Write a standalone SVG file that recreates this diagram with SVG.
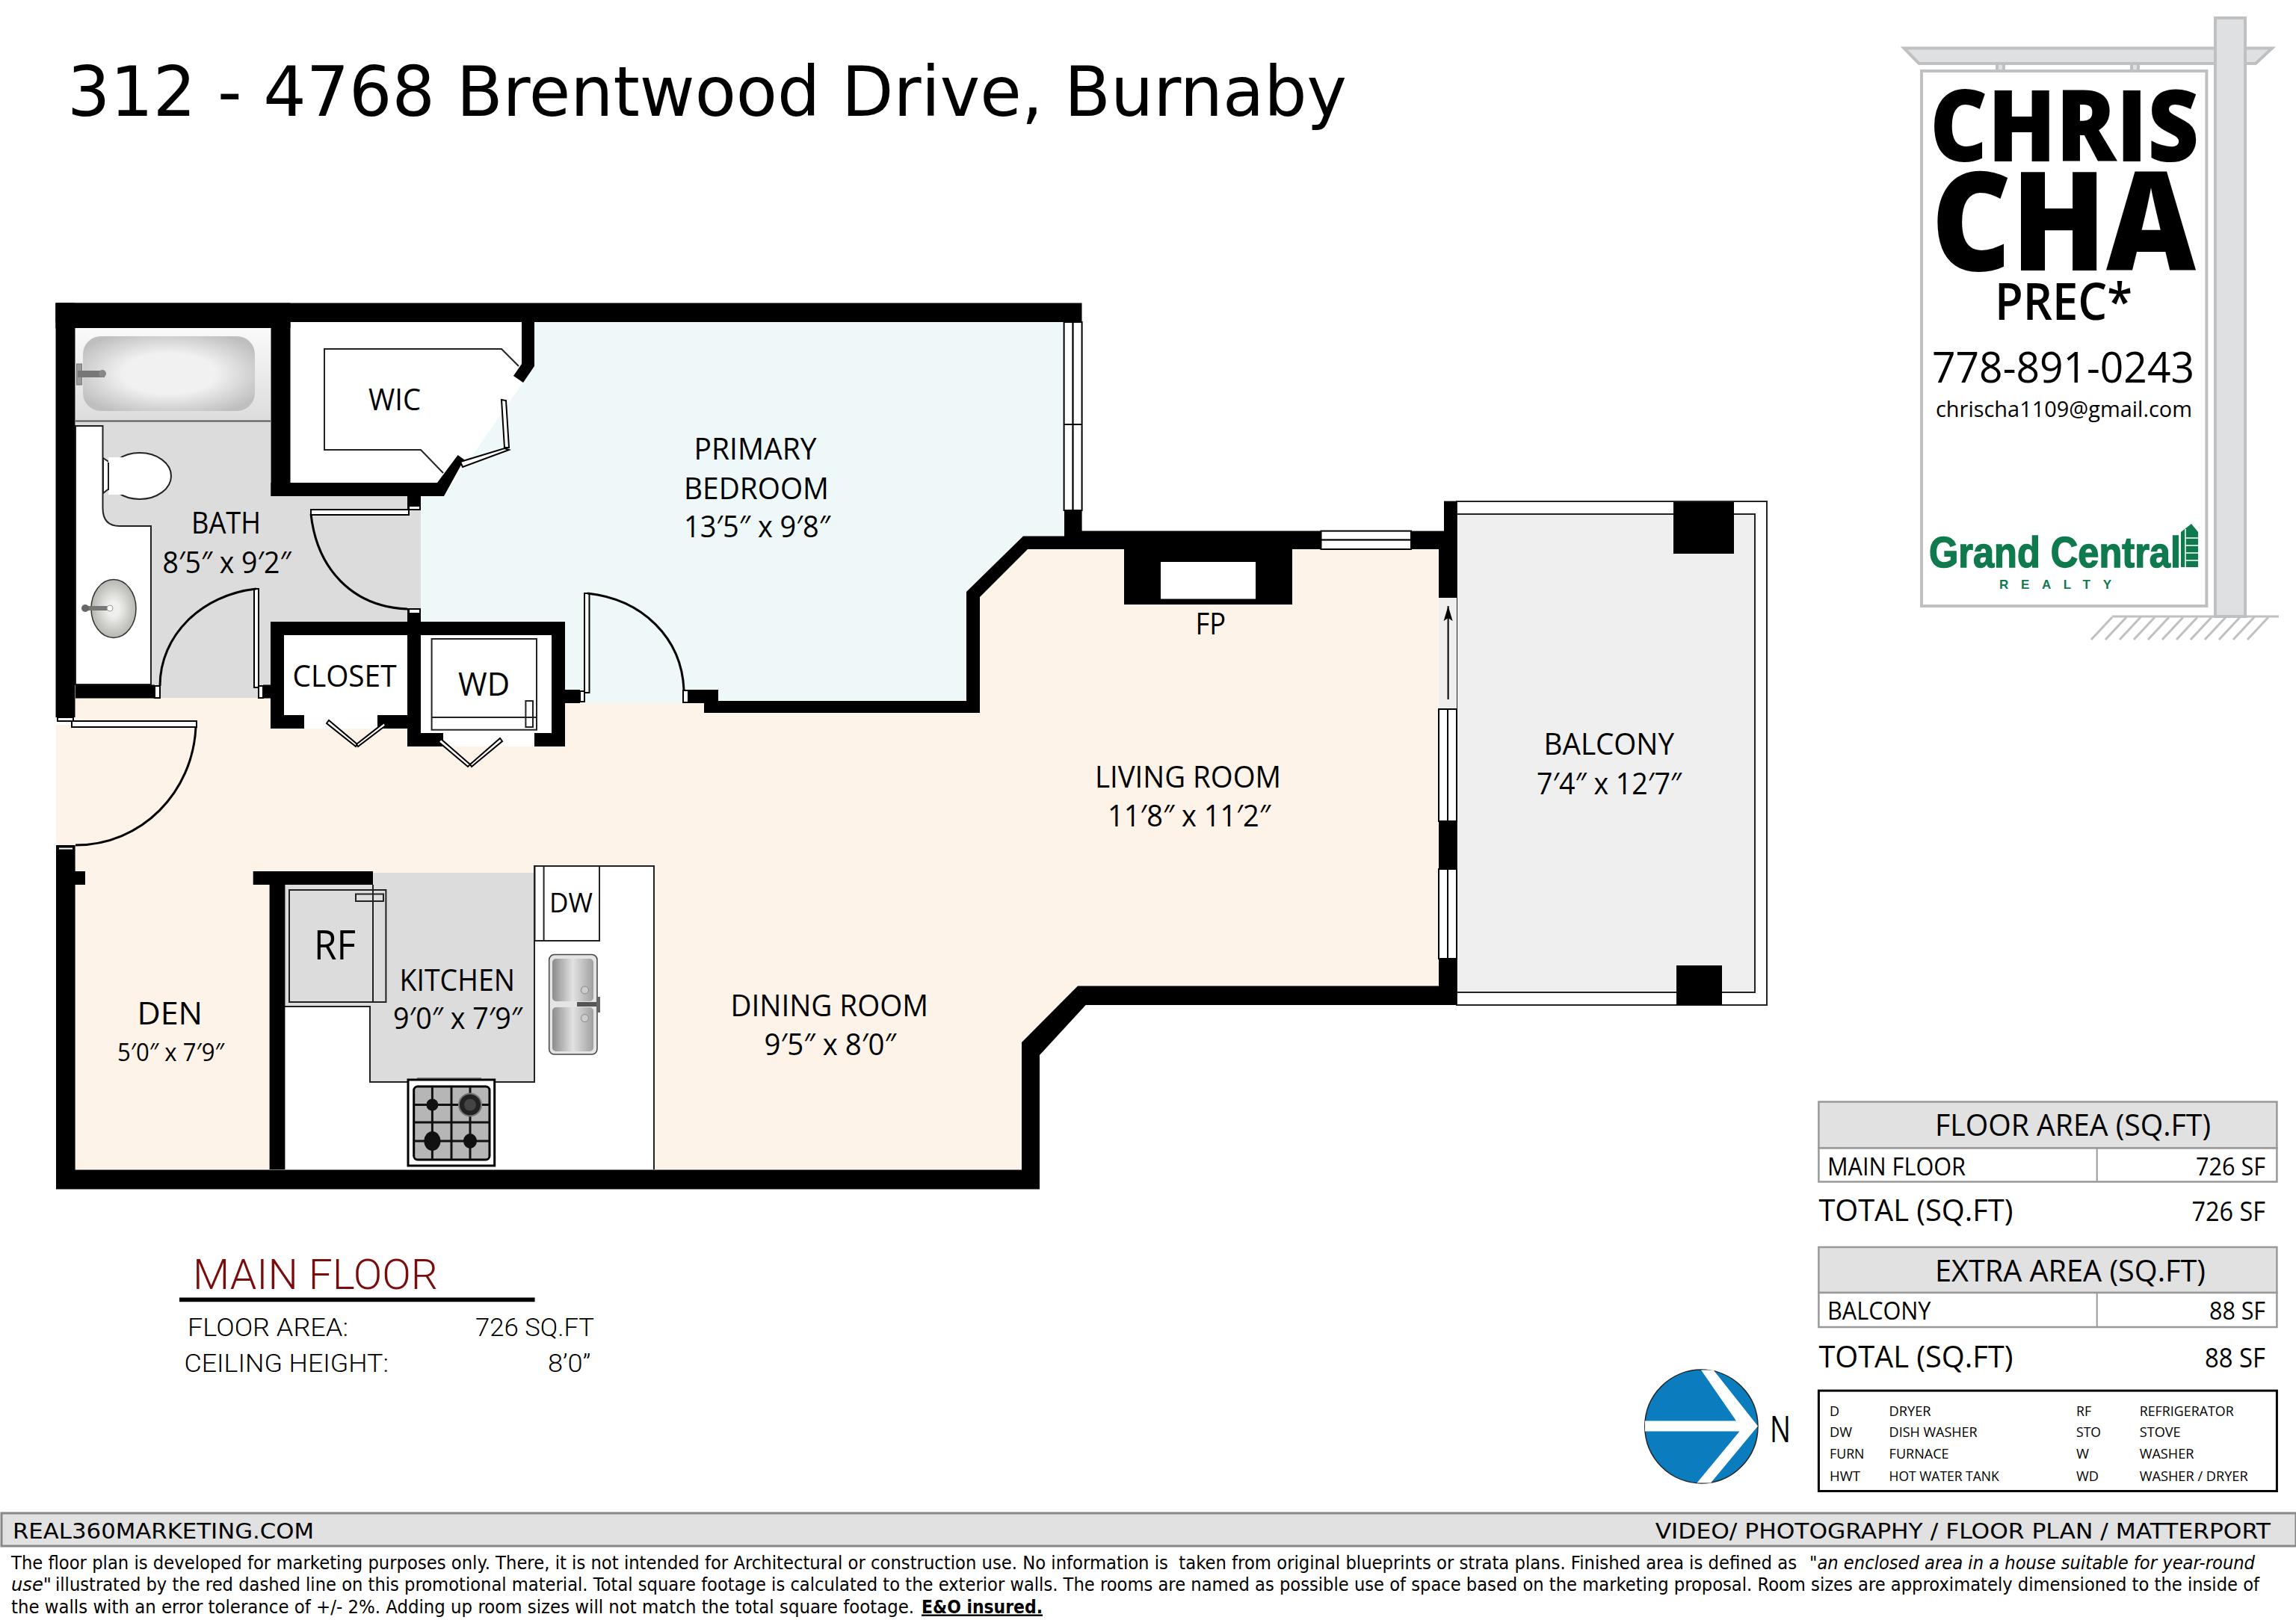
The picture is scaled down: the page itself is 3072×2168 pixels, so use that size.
<svg xmlns="http://www.w3.org/2000/svg" width="3072" height="2168" viewBox="0 0 3072 2168">
<style>
text{font-family:"Open Sans","Liberation Sans",sans-serif;fill:#000}
.w{fill:#000}
.lbl{font-size:40px}
.sm{font-size:19px}
.tbl{font-size:32px}
.tot{font-size:40px}
.hdr{font-size:40px}
.ft{font-family:"DejaVu Sans",sans-serif;font-size:24px;white-space:pre}
.bar{font-family:"DejaVu Sans",sans-serif;font-size:29px}
.rb{font-family:Roboto,sans-serif;font-size:33px;font-weight:300}
.win{fill:#fff;stroke:#000;stroke-width:2}
.swing{fill:none;stroke:#000;stroke-width:3}
.thin{fill:none;stroke:#222;stroke-width:2}
.sign{fill:#dfe0e2;stroke:#bfc0c2;stroke-width:4}
.hatch{stroke:#bfc0c2;stroke-width:3}
.green{font-family:"Liberation Sans",sans-serif;font-weight:700;fill:#0f7a4d}
</style>
<defs>
<radialGradient id="tub" cx="50%" cy="50%" r="60%"><stop offset="0.45" stop-color="#f1f1f2"/><stop offset="1" stop-color="#bfbfbf"/></radialGradient>
<linearGradient id="tubbg" x1="0" y1="0" x2="0" y2="1"><stop offset="0" stop-color="#fafafa"/><stop offset="1" stop-color="#dcdcdc"/></linearGradient>
<radialGradient id="bowl" cx="50%" cy="50%" r="60%"><stop offset="0.2" stop-color="#f0f0ee"/><stop offset="1" stop-color="#a8a8a0"/></radialGradient>
<linearGradient id="steel" x1="0" y1="0" x2="1" y2="0"><stop offset="0" stop-color="#8c8c8c"/><stop offset="0.5" stop-color="#e2e2e2"/><stop offset="1" stop-color="#a0a0a0"/></linearGradient>
<marker id="ah" markerWidth="22" markerHeight="14" refX="20" refY="7" orient="auto" markerUnits="userSpaceOnUse" viewBox="0 0 22 14"><path d="M20 7L0 1L4 7L0 13Z" fill="#000"/></marker>
</defs>
<rect width="3072" height="2168" fill="#fff"/>
<text id="title" x="90" y="155" font-size="92" style="font-family:'DejaVu Sans',sans-serif" textLength="1712" lengthAdjust="spacingAndGlyphs">312 - 4768 Brentwood Drive, Burnaby</text>

<g id="floors">
<polygon id="floor-living" fill="#fdf3e9" points="100,934 362,934 362,975 545,975 545,999 756,999 756,941 1311,941 1311,799 1375,735 1925,735 1925,1320 1442,1320 1367,1400 1367,1565 100,1565 100,1131 75,1131 75,970 100,970"/>
<polygon id="floor-bedroom" fill="#eff8f9" points="715,431 1424,431 1424,717 1369,717 1293,792 1293,941 756,941 756,832 563,832 563,664 594,664 715,490"/>
<polygon id="floor-bath" fill="#dcdcdc" points="101,563 362,563 362,664 563,664 563,832 362,832 362,934 101,934"/>
<polygon id="floor-wic" fill="#fff" points="388,431 700,431 700,505 621,615 594,646 388,646"/>
<rect id="floor-closet" x="380" y="850" width="165" height="122" fill="#fff"/>
<rect id="floor-wd" x="563" y="850" width="175" height="145" fill="#fff"/>
<polygon id="floor-counter" fill="#fff" points="381,1347 495,1347 495,1448 715,1448 715,1159 875,1159 875,1565 381,1565"/>
<polygon id="floor-kitchen" fill="#dcdcdc" points="381,1184 499,1184 499,1168 715,1168 715,1448 495,1448 495,1347 381,1347"/>
<polyline class="thin" points="381,1347 495,1347 495,1448 715,1448 715,1159 875,1159 875,1565"/>
</g>

<g id="balcony">
<rect x="1949" y="671" width="415" height="674" fill="#fff" stroke="#222" stroke-width="2"/>
<rect x="1949" y="688" width="399" height="640" fill="#efefef" stroke="#222" stroke-width="2"/>
<rect x="1925" y="800" width="24" height="149" fill="#efefef"/>
<rect class="w" x="2239" y="672" width="81" height="69"/>
<rect class="w" x="2243" y="1292" width="61" height="53"/>
<line x1="1937.6" y1="936" x2="1937.6" y2="811" stroke="#000" stroke-width="2" marker-end="url(#ah)"/>
</g>

<g id="bath-fixtures">
<rect x="101" y="439" width="261" height="124" fill="url(#tubbg)"/>
<line x1="101" y1="563.5" x2="362" y2="563.5" stroke="#555" stroke-width="2"/>
<rect x="111" y="450" width="230" height="100" rx="24" fill="url(#tub)"/>
<rect x="102.5" y="487" width="7" height="28" fill="#999" stroke="#777"/>
<rect x="104" y="496" width="36" height="9" fill="#777"/>
<circle cx="137" cy="500" r="5" fill="#888"/>
<path class="thin" style="fill:#fff" d="M101,570H137.5V680Q137.5,704 160,704H202V916H101Z"/>
<path d="M138,613L147,619V653L138,660Z" fill="#fff" stroke="#222" stroke-width="2"/>
<ellipse cx="187" cy="637" rx="42" ry="31" fill="#fff" stroke="#222" stroke-width="2"/>
<rect x="145" y="612" width="26" height="50" fill="#fff"/>
<line x1="145" y1="619" x2="145" y2="656" stroke="#222" stroke-width="2"/>
<ellipse cx="152" cy="814.5" rx="30" ry="39" fill="url(#bowl)" stroke="#333" stroke-width="1.5"/>
<rect x="113" y="811" width="31" height="6" fill="#777"/>
<circle cx="114" cy="814" r="5" fill="#666"/>
<circle cx="147" cy="814" r="4" fill="#fff" stroke="#999"/>
</g>

<g id="closet-fixtures">
<rect x="577.6" y="855" width="140.4" height="121.7" class="thin"/>
<line x1="577.6" y1="960" x2="718" y2="960" stroke="#222" stroke-width="2"/>
<rect x="703.4" y="938" width="9.6" height="35" class="thin"/>
</g>

<g id="wic-shelves">
<polyline class="thin" points="694,490 671,467 434,467 434,602 563,602 593,633"/>
</g>

<g id="kitchen-fixtures">
<rect x="387" y="1191" width="129.4" height="150" class="thin"/>
<line x1="499" y1="1184" x2="499" y2="1341" stroke="#222" stroke-width="2"/>
<rect x="476" y="1196.5" width="37" height="9.5" class="thin"/>
<rect x="715.5" y="1159" width="86.5" height="100" class="thin"/>
<line x1="727.6" y1="1159" x2="727.6" y2="1259" stroke="#222" stroke-width="2"/>
<rect x="734.7" y="1277.6" width="64.3" height="133.4" rx="7" fill="#e4e4e4" stroke="#444" stroke-width="1.5"/>
<rect x="739" y="1283" width="55" height="57" rx="5" fill="url(#steel)"/>
<rect x="739" y="1348" width="55" height="59" rx="5" fill="url(#steel)"/>
<circle cx="782.4" cy="1325" r="5" fill="#ccc" stroke="#888"/>
<circle cx="782.4" cy="1362.6" r="5" fill="#ccc" stroke="#888"/>
<rect x="772" y="1341" width="28" height="6" fill="#555"/>
<rect x="798" y="1334" width="5" height="21" fill="#666"/>
<rect x="558" y="1442" width="86" height="4" fill="#888"/>
<rect x="546" y="1445" width="115.7" height="115" fill="#fff" stroke="#000" stroke-width="3"/>
<rect x="553.7" y="1454" width="101.3" height="98" rx="5" fill="#b6b6b6" stroke="#000" stroke-width="3"/>
<path d="M578.4,1454V1552M604,1454V1552M629,1454V1552M554,1478.5H655M554,1502H655M554,1527H655" fill="none" stroke="#111" stroke-width="3"/>
<ellipse cx="578.4" cy="1478.5" rx="8" ry="8" fill="#111"/>
<circle cx="629" cy="1478.5" r="15" fill="#222" stroke="#777" stroke-width="2"/>
<circle cx="629" cy="1478.5" r="8" fill="#444"/>
<ellipse cx="578.4" cy="1527" rx="11" ry="13" fill="#111"/>
<ellipse cx="629" cy="1527" rx="9" ry="10" fill="#111"/>
</g>

<g id="walls" class="w">
<rect x="74.5" y="405.5" width="1373" height="25.5"/>
<rect x="74.5" y="405.5" width="314" height="33.5"/>
<rect x="74.5" y="405.5" width="26" height="554.5"/>
<rect x="362.5" y="431" width="26" height="233"/>
<polygon points="362.5,646 585,646 612.6,609 621,615 594,664 362.5,664"/>
<rect x="698" y="431" width="17" height="59"/>
<polygon points="698,487 715,490 700,512 687,503"/>
<rect x="545" y="664" width="18" height="18"/>
<rect x="545" y="814" width="18" height="36"/>
<rect x="362" y="832" width="394" height="18"/>
<rect x="362" y="832" width="18" height="143"/>
<rect x="362" y="957" width="45" height="18"/>
<rect x="505" y="957" width="40" height="18"/>
<rect x="545" y="832" width="18" height="167"/>
<rect x="545" y="981" width="48" height="18"/>
<rect x="715" y="981" width="41" height="18"/>
<rect x="738" y="832" width="18" height="167"/>
<rect x="101" y="916.5" width="106" height="18"/>
<rect x="352" y="916.5" width="10" height="18"/>
<rect x="756" y="923" width="20" height="18"/>
<rect x="921" y="923" width="40" height="18"/>
<rect x="942" y="938" width="369" height="16"/>
<polygon points="1293,938 1293,792 1369,717.5 1424,717.5 1424,683 1447.6,683 1447.6,710.6 1767.5,710.6 1767.5,735 1375,735 1311,799 1311,954 1293,954"/>
<rect x="1504" y="735" width="225" height="74"/>
<rect x="1553" y="752" width="127" height="49.5" fill="#fff"/>
<rect x="1888" y="710.6" width="61" height="24.4"/>
<rect x="1925" y="735" width="24" height="65"/>
<rect x="1932" y="670.6" width="17" height="65"/>
<rect x="1925" y="1099" width="24" height="64"/>
<rect x="1925" y="1283" width="24" height="62"/>
<polygon points="1442,1319.4 1925,1319.4 1949,1319.4 1949,1345 1452.7,1345 1391,1412 1391,1591.5 75,1591.5 75,1131 100.6,1131 100.6,1565.5 1367,1565.5 1367,1395"/>
<rect x="100" y="1166" width="14" height="18"/>
<rect x="338.7" y="1166" width="160.3" height="18"/>
<rect x="360.6" y="1166" width="20.8" height="399"/>
</g>

<g id="connectors">
<rect class="win" x="547" y="677" width="15" height="5"/>
<rect class="win" x="416" y="682" width="131" height="7"/>
<path class="swing" d="M416,688C424,760 470,812 545,815"/>
<rect class="win" x="547" y="815" width="15" height="6"/>
<rect class="win" x="207" y="918" width="7" height="16"/>
<rect class="win" x="340" y="788" width="6" height="132"/>
<rect class="win" x="346" y="918" width="6" height="16"/>
<path class="swing" d="M342.6,788C270,796 214,850 214,918"/>
<rect class="win" x="776" y="925" width="6" height="14"/>
<rect class="win" x="782" y="794" width="6.5" height="133"/>
<rect class="win" x="914" y="924" width="7" height="16"/>
<path class="swing" d="M786,794C860,802 912,854 915,923"/>
<rect class="win" x="77" y="960" width="21" height="5"/>
<rect class="win" x="96" y="965" width="167" height="8"/>
<path class="swing" d="M262,973C258,1060 190,1131 101,1131"/>
<rect class="win" x="78" y="1133.6" width="20" height="4"/>
<polygon class="win" points="671,535 677,536 681,599 675,599"/>
<polygon class="win" points="675,600 681,602 619,625 616,618"/>
<polygon class="win" points="437,968 440,964 478,996 476,999"/>
<polygon class="win" points="479,999 477,996 514,967 516,971"/>
<polygon class="win" points="587,993 590,989 629,1023 626,1026"/>
<polygon class="win" points="631,1026 629,1023 669,988 672,992"/>
<rect class="win" x="1423.6" y="431" width="12" height="252"/>
<rect class="win" x="1435.6" y="431" width="12" height="252"/>
<line x1="1423.6" y1="568" x2="1447.6" y2="568" stroke="#000" stroke-width="2"/>
<rect class="win" x="1767.5" y="710.6" width="120.5" height="12"/>
<rect class="win" x="1767.5" y="722.6" width="120.5" height="12.4"/>
<rect class="win" x="1925" y="949" width="12" height="150"/>
<rect class="win" x="1937" y="949" width="12" height="150"/>
<rect class="win" x="1925" y="1163" width="12" height="120"/>
<rect class="win" x="1937" y="1163" width="12" height="120"/>
</g>

<g id="labels" transform="translate(0,1.5)">
<text id="wic" class="lbl" x="493" y="547" textLength="70" lengthAdjust="spacingAndGlyphs">WIC</text>
<text class="lbl" x="256" y="712" textLength="93" lengthAdjust="spacingAndGlyphs">BATH</text>
<text class="lbl" x="217.5" y="765" textLength="172" lengthAdjust="spacingAndGlyphs">8′5″ x 9′2″</text>
<text class="lbl" x="391.5" y="917" textLength="139" lengthAdjust="spacingAndGlyphs">CLOSET</text>
<text x="613" y="929" font-size="44" textLength="69" lengthAdjust="spacingAndGlyphs">WD</text>
<text class="lbl" x="928.6" y="613" textLength="164" lengthAdjust="spacingAndGlyphs">PRIMARY</text>
<text class="lbl" x="915" y="666" textLength="194" lengthAdjust="spacingAndGlyphs">BEDROOM</text>
<text class="lbl" x="915" y="717" textLength="196" lengthAdjust="spacingAndGlyphs">13′5″ x 9′8″</text>
<text class="lbl" x="1465" y="1052" textLength="249" lengthAdjust="spacingAndGlyphs">LIVING ROOM</text>
<text class="lbl" x="1482" y="1104.5" textLength="218" lengthAdjust="spacingAndGlyphs">11′8″ x 11′2″</text>
<text class="lbl" x="1599.5" y="847.5" textLength="40.5" lengthAdjust="spacingAndGlyphs">FP</text>
<text class="lbl" x="2065.6" y="1008" textLength="174.4" lengthAdjust="spacingAndGlyphs">BALCONY</text>
<text class="lbl" x="2056" y="1061" textLength="194" lengthAdjust="spacingAndGlyphs">7′4″ x 12′7″</text>
<text class="lbl" x="977.5" y="1358" textLength="264.5" lengthAdjust="spacingAndGlyphs">DINING ROOM</text>
<text class="lbl" x="1022.6" y="1410" textLength="176.4" lengthAdjust="spacingAndGlyphs">9′5″ x 8′0″</text>
<text class="lbl" x="534.5" y="1324" textLength="154.5" lengthAdjust="spacingAndGlyphs">KITCHEN</text>
<text class="lbl" x="526" y="1375.6" textLength="173" lengthAdjust="spacingAndGlyphs">9′0″ x 7′9″</text>
<text x="183.4" y="1369.7" font-size="42" textLength="87.6" lengthAdjust="spacingAndGlyphs">DEN</text>
<text x="157" y="1418" font-size="33" textLength="143" lengthAdjust="spacingAndGlyphs">5′0″ x 7′9″</text>
<text x="420" y="1282.7" font-size="54" textLength="56" lengthAdjust="spacingAndGlyphs">RF</text>
<text x="735" y="1219.5" font-size="36" textLength="58" lengthAdjust="spacingAndGlyphs">DW</text>
</g>

<g id="floor-info" transform="translate(0,1.5)">
<text x="258" y="1723" style="font-family:Roboto,sans-serif;fill:#7a0c0c;font-weight:300" font-size="56" textLength="328" lengthAdjust="spacingAndGlyphs">MAIN FLOOR</text>
<rect x="240" y="1735" width="475.6" height="5.7"/>
<text class="rb" x="251" y="1786" textLength="215" lengthAdjust="spacingAndGlyphs">FLOOR AREA:</text>
<text class="rb" x="636" y="1786" textLength="159" lengthAdjust="spacingAndGlyphs">726 SQ.FT</text>
<text class="rb" x="246.5" y="1834" textLength="273.5" lengthAdjust="spacingAndGlyphs">CEILING HEIGHT:</text>
<text class="rb" x="733" y="1834" textLength="57.5" lengthAdjust="spacingAndGlyphs">8’0”</text>
</g>

<g id="area-tables">
<rect x="2433.4" y="1474.5" width="613" height="62" fill="#e1e1e1" stroke="#999" stroke-width="2.5"/>
<rect x="2433.4" y="1536.5" width="613" height="45" fill="#fff" stroke="#999" stroke-width="2.5"/>
<line x1="2805.7" y1="1536" x2="2805.7" y2="1581" stroke="#999" stroke-width="2"/>
<text class="hdr" x="2589" y="1520" textLength="369" lengthAdjust="spacingAndGlyphs">FLOOR AREA (SQ.FT)</text>
<text class="tbl" x="2445" y="1573" textLength="185" lengthAdjust="spacingAndGlyphs">MAIN FLOOR</text>
<text class="tbl" x="2938" y="1573" textLength="93" lengthAdjust="spacingAndGlyphs">726 SF</text>
<text class="tot" x="2433.4" y="1634" textLength="260" lengthAdjust="spacingAndGlyphs">TOTAL (SQ.FT)</text>
<text class="tbl" x="2932.5" y="1634" style="font-size:36px" textLength="98.5" lengthAdjust="spacingAndGlyphs">726 SF</text>
<rect x="2433.4" y="1669" width="613" height="61" fill="#e1e1e1" stroke="#999" stroke-width="2.5"/>
<rect x="2433.4" y="1730" width="613" height="46" fill="#fff" stroke="#999" stroke-width="2.5"/>
<line x1="2805.7" y1="1730" x2="2805.7" y2="1776" stroke="#999" stroke-width="2"/>
<text class="hdr" x="2589" y="1714.5" textLength="362" lengthAdjust="spacingAndGlyphs">EXTRA AREA (SQ.FT)</text>
<text class="tbl" x="2445" y="1765.5" textLength="138.5" lengthAdjust="spacingAndGlyphs">BALCONY</text>
<text class="tbl" x="2956" y="1765.5" textLength="75" lengthAdjust="spacingAndGlyphs">88 SF</text>
<text class="tot" x="2433.4" y="1830" textLength="260" lengthAdjust="spacingAndGlyphs">TOTAL (SQ.FT)</text>
<text class="tbl" x="2950" y="1830" style="font-size:36px" textLength="81" lengthAdjust="spacingAndGlyphs">88 SF</text>
</g>

<g id="legend" transform="translate(0,1.5)">
<rect x="2433.4" y="1859.6" width="613" height="134.4" fill="#fff" stroke="#000" stroke-width="3"/>
<text class="sm" x="2448" y="1893" textLength="13" lengthAdjust="spacingAndGlyphs">D</text>
<text class="sm" x="2527.6" y="1893" textLength="56" lengthAdjust="spacingAndGlyphs">DRYER</text>
<text class="sm" x="2778" y="1893" textLength="20" lengthAdjust="spacingAndGlyphs">RF</text>
<text class="sm" x="2862.7" y="1893" textLength="126" lengthAdjust="spacingAndGlyphs">REFRIGERATOR</text>
<text class="sm" x="2448" y="1921.4" textLength="30" lengthAdjust="spacingAndGlyphs">DW</text>
<text class="sm" x="2527.6" y="1921.4" textLength="118" lengthAdjust="spacingAndGlyphs">DISH WASHER</text>
<text class="sm" x="2778" y="1921.4" textLength="33" lengthAdjust="spacingAndGlyphs">STO</text>
<text class="sm" x="2862.7" y="1921.4" textLength="55" lengthAdjust="spacingAndGlyphs">STOVE</text>
<text class="sm" x="2448" y="1950.7" textLength="46.5" lengthAdjust="spacingAndGlyphs">FURN</text>
<text class="sm" x="2527.6" y="1950.7" textLength="80" lengthAdjust="spacingAndGlyphs">FURNACE</text>
<text class="sm" x="2778" y="1950.7" textLength="17" lengthAdjust="spacingAndGlyphs">W</text>
<text class="sm" x="2862.7" y="1950.7" textLength="72.7" lengthAdjust="spacingAndGlyphs">WASHER</text>
<text class="sm" x="2448" y="1980" textLength="41" lengthAdjust="spacingAndGlyphs">HWT</text>
<text class="sm" x="2527.6" y="1980" textLength="147" lengthAdjust="spacingAndGlyphs">HOT WATER TANK</text>
<text class="sm" x="2778" y="1980" textLength="30" lengthAdjust="spacingAndGlyphs">WD</text>
<text class="sm" x="2862.7" y="1980" textLength="145" lengthAdjust="spacingAndGlyphs">WASHER / DRYER</text>
</g>

<g id="compass" transform="translate(0,1.5)">
<ellipse cx="2276.4" cy="1907.5" rx="75.6" ry="76" fill="#0b7dbf" stroke="#222" stroke-width="1.5"/>
<polygon fill="#fff" points="2276,1832 2292.6,1832 2352,1907 2289,1983 2270.5,1983 2327.5,1914 2201,1914 2201,1900 2323,1900"/>
<text x="2368" y="1928.6" font-size="50" textLength="28" lengthAdjust="spacingAndGlyphs">N</text>
</g>

<g id="sign">
<rect class="sign" x="2964" y="24" width="40" height="801"/>
<polygon class="sign" points="2547.5,64.5 2964,64.5 2964,85 2567.5,85"/>
<polygon class="sign" points="3004,64.5 3040,64.5 3018,85 3004,85"/>
<rect class="sign" x="2672" y="85" width="9" height="10"/>
<rect class="sign" x="2852" y="85" width="9" height="10"/>
<rect x="2571" y="95" width="381.4" height="716" fill="#fff" stroke="#bfc0c2" stroke-width="4"/>
<line class="hatch" x1="2826" y1="825" x2="3049" y2="825"/>
<path class="hatch" d="M2826,826L2798,856M2845,826L2817,856M2864,826L2836,856M2883,826L2855,856M2902,826L2874,856M2921,826L2893,856M2940,826L2912,856M2959,826L2931,856M2978,826L2950,856M2997,826L2969,856M3016,826L2988,856M3035,826L3007,856"/>
<text x="2582" y="216" font-size="133" font-weight="800" textLength="360" lengthAdjust="spacingAndGlyphs">CHRIS</text>
<text x="2584" y="362" font-size="185" font-weight="800" textLength="354" lengthAdjust="spacingAndGlyphs">CHA</text>
<text x="2669" y="428" font-size="68" font-weight="600" textLength="184" lengthAdjust="spacingAndGlyphs">PREC*</text>
<text x="2585" y="512" font-size="56" font-weight="500" textLength="351" lengthAdjust="spacingAndGlyphs">778-891-0243</text>
<text x="2590" y="558" font-size="30" textLength="343" lengthAdjust="spacingAndGlyphs">chrischa1109@gmail.com</text>
<text class="green" x="2581" y="759" font-size="58" textLength="337" lengthAdjust="spacingAndGlyphs" stroke="#0f7a4d" stroke-width="1.5">Grand Central</text>
<polygon fill="#0f7a4d" points="2918,712 2932,701 2941,712 2941,759 2918,759"/>
<path d="M2924,708V759M2924,720H2941M2924,730H2941M2924,740H2941M2924,750H2941" stroke="#fff" stroke-width="1.5"/>
<text class="green" x="2675" y="788" font-size="17" textLength="150" lengthAdjust="spacing">REALTY</text>
</g>

<g id="footer">
<rect x="2" y="2025" width="3070" height="44" fill="#e1e1e1" stroke="#888" stroke-width="3"/>
<text class="bar" x="17" y="2059" textLength="403" lengthAdjust="spacingAndGlyphs">REAL360MARKETING.COM</text>
<text class="bar" x="2214.7" y="2059" textLength="823.3" lengthAdjust="spacingAndGlyphs">VIDEO/ PHOTOGRAPHY / FLOOR PLAN / MATTERPORT</text>
<text class="ft" x="15" y="2099.5" textLength="2389" lengthAdjust="spacingAndGlyphs">The floor plan is developed for marketing purposes only. There, it is not intended for Architectural or construction use. No information is  taken from original blueprints or strata plans. Finished area is defined as</text>
<text class="ft" x="2421" y="2099.5" font-style="italic" textLength="596" lengthAdjust="spacingAndGlyphs">"an enclosed area in a house suitable for year-round</text>
<text class="ft" x="15" y="2128.5" font-style="italic" textLength="54" lengthAdjust="spacingAndGlyphs">use"</text>
<text class="ft" x="74" y="2128.5" textLength="2949" lengthAdjust="spacingAndGlyphs">illustrated by the red dashed line on this promotional material. Total square footage is calculated to the exterior walls. The rooms are named as possible use of space based on the marketing proposal. Room sizes are approximately dimensioned to the inside of</text>
<text class="ft" x="15" y="2158.5" textLength="1208" lengthAdjust="spacingAndGlyphs">the walls with an error tolerance of +/- 2%. Adding up room sizes will not match the total square footage.</text>
<text class="ft" x="1233" y="2158.5" font-weight="700" text-decoration="underline" textLength="162" lengthAdjust="spacingAndGlyphs">E&amp;O insured.</text>
</g>
</svg>
